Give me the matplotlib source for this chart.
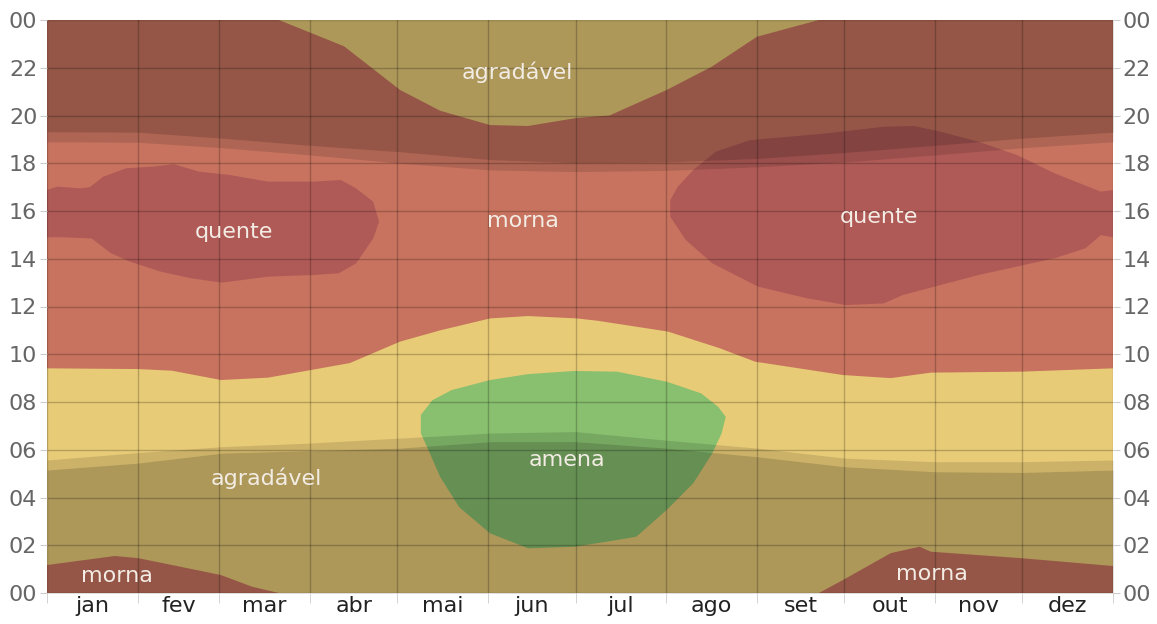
import matplotlib
matplotlib.use("Agg")
import matplotlib.pyplot as plt
import numpy as np

# eixo x: dia do ano (0..365), eixo y: hora do dia (0..24)
meses = ["jan", "fev", "mar", "abr", "mai", "jun", "jul", "ago", "set", "out", "nov", "dez"]
dias_mes = [31, 28, 31, 30, 31, 30, 31, 31, 30, 31, 30, 31]

# limite manha agradavel -> morna
manha_dias = [0, 31.2, 42.8, 59.6, 75.7, 90.4, 103.7, 120.9, 134.6, 151.7, 164.7, 181.5,
              188.7, 212.6, 230.4, 242.4, 272.5, 288.9, 302.6, 333.4, 365]
manha_horas = [9.41, 9.38, 9.31, 8.92, 9.02, 9.34, 9.63, 10.53, 11.0, 11.5, 11.6, 11.5,
               11.4, 10.95, 10.25, 9.69, 9.13, 9.0, 9.23, 9.27, 9.41]

# limite noite morna -> agradavel (cupula no topo)
cupula_dias = [79.4, 101.7, 120.9, 134.6, 151.7, 164.7, 181.5, 192.6, 212.2, 227.7, 243.1, 264.3]
cupula_horas = [24, 22.9, 21.07, 20.2, 19.6, 19.56, 19.9, 20.0, 21.07, 22.05, 23.3, 24]

# morna depois da meia-noite
morna_esq_dias = [0, 23.2, 31.2, 42.9, 59.6, 70.3, 79.4]
morna_esq_horas = [1.17, 1.55, 1.46, 1.17, 0.75, 0.26, 0]
morna_dir_dias = [264.3, 272.5, 288.9, 298.8, 302.6, 333.4, 365]
morna_dir_horas = [0, 0.54, 1.67, 1.94, 1.73, 1.46, 1.13]

# quente (jan-abr)
quente1_dias = [0, 3.6, 11.4, 14.7, 19.3, 27.1, 36.3, 43.5, 52, 62.5, 75.7, 91.4, 100.6, 105.8,
                111.7, 113.7, 111.7, 105.8, 99.9, 91.4, 75.7, 59.9, 49.4, 38.9, 28.4, 21.9,
                15.3, 4.9, 0]
quente1_horas = [16.88, 17.02, 16.95, 17.0, 17.44, 17.79, 17.86, 17.96, 17.65, 17.51, 17.23,
                 17.23, 17.3, 16.95, 16.39, 15.55, 14.85, 13.8, 13.39, 13.32, 13.25, 13.0,
                 13.18, 13.46, 13.88, 14.23, 14.85, 14.9, 14.9]

# quente (ago-dez)
quente2_dias = [213.4, 216, 221.3, 229.1, 240.8, 253.9, 266.9, 286.5, 296.9, 306, 319, 332, 345,
                360.8, 365, 365, 360.8, 355.6, 345, 332, 319, 306, 293, 286.5, 273.5, 260.4,
                243.5, 227.8, 218.7, 213.4]
quente2_horas = [16.46, 17.02, 17.72, 18.49, 18.97, 19.11, 19.25, 19.53, 19.56, 19.32, 18.9,
                 18.35, 17.58, 16.81, 16.88, 14.9, 14.99, 14.44, 14.02, 13.67, 13.32, 12.9,
                 12.48, 12.13, 12.06, 12.34, 12.83, 13.81, 14.79, 15.76]

# amena (mai-ago)
amena_dias = [128, 132, 138.6, 151.7, 164.8, 180.5, 195.2, 212.2, 224, 229.8, 232.4, 231, 227.8,
              221.3, 212.2, 201.8, 195.2, 180.9, 164.8, 151.7, 141.1, 134.6, 130.6, 128]
amena_horas = [7.46, 8.08, 8.5, 8.92, 9.17, 9.3, 9.27, 8.85, 8.36, 7.8, 7.38, 6.69, 5.85, 4.6,
               3.48, 2.36, 2.22, 1.94, 1.87, 2.5, 3.6, 4.87, 5.99, 6.69]

# noite e crepusculo
sol_dias = [0, 31, 60, 90, 121, 152, 181, 212, 243, 273, 304, 334, 365]
noite_manha = [5.15, 5.44, 5.86, 5.96, 6.07, 6.34, 6.34, 6.07, 5.71, 5.29, 5.08, 5.05, 5.15]
crep_manha = [5.57, 5.88, 6.13, 6.28, 6.49, 6.7, 6.76, 6.4, 6.07, 5.65, 5.5, 5.5, 5.57]
crep_tarde = [18.9, 18.88, 18.65, 18.35, 18.0, 17.72, 17.65, 17.7, 17.85, 18.05, 18.35, 18.65, 18.9]
noite_tarde = [19.32, 19.3, 19.05, 18.75, 18.48, 18.15, 18.02, 18.05, 18.2, 18.45, 18.75, 19.05, 19.3]

rotulos = ["agradável", "morna", "quente", "quente", "amena", "agradável", "morna", "morna"]
rotulos_dia = [161, 163, 64, 285, 178, 75, 24, 303]
rotulos_hora = [21.8, 15.6, 15.1, 15.75, 5.57, 4.8, 0.7, 0.8]

c_agradavel = "#E8CB77"
c_morna = "#C8735F"
c_quente = "#B05A57"
c_amena = "#88C06F"

fig = plt.figure(figsize=(11.57, 6.24), dpi=100)
ax = fig.add_axes([47 / 1157, 1 - 593 / 624, 1066 / 1157, 573 / 624])
ax.set_facecolor(c_agradavel)

# morna (dia e inicio da noite)
xs = manha_dias + [365] + cupula_dias[::-1] + [0]
ys = manha_horas + [24] + cupula_horas[::-1] + [24]
ax.fill(xs, ys, color=c_morna, lw=0, zorder=1)
ax.fill(morna_esq_dias + [0], morna_esq_horas + [0], color=c_morna, lw=0, zorder=1)
ax.fill(morna_dir_dias + [365], morna_dir_horas + [0], color=c_morna, lw=0, zorder=1)

ax.fill(quente1_dias, quente1_horas, color=c_quente, lw=0, zorder=1.2)
ax.fill(quente2_dias, quente2_horas, color=c_quente, lw=0, zorder=1.2)
ax.fill(amena_dias, amena_horas, color=c_amena, lw=0, zorder=1.2)

# sombra da noite
ax.fill_between(sol_dias, 0, noite_manha, color="black", alpha=0.25, lw=0, zorder=1.5)
ax.fill_between(sol_dias, noite_manha, crep_manha, color="black", alpha=0.12, lw=0, zorder=1.5)
ax.fill_between(sol_dias, noite_tarde, 24, color="black", alpha=0.25, lw=0, zorder=1.5)
ax.fill_between(sol_dias, crep_tarde, noite_tarde, color="black", alpha=0.12, lw=0, zorder=1.5)

for t, d, h in zip(rotulos, rotulos_dia, rotulos_hora):
    ax.text(d, h, t, color="#F3ECE4", fontsize=16, ha="center", va="center", zorder=3)

limites = np.concatenate([[0], np.cumsum(dias_mes)])
centros = (limites[:-1] + limites[1:]) / 2

ax.set_xlim(0, 365)
ax.set_ylim(0, 24)
ax.set_xticks(centros)
ax.set_xticklabels(meses)
ax.set_xticks(limites, minor=True)
ax.tick_params(axis="x", which="major", length=0, labelsize=16, labelcolor="#222222", pad=2)
ax.tick_params(axis="x", which="minor", length=7, color="#cccccc")

horas = np.arange(0, 25, 2)
ax.set_yticks(horas)
ax.set_yticklabels(["%02d" % (h % 24) for h in horas])
ax.tick_params(axis="y", length=5, color="#cccccc", labelsize=16, labelcolor="#666666",
               left=True, right=True, labelleft=True, labelright=True, pad=2)

ax.set_axisbelow(False)
ax.grid(True, axis="y", color="black", alpha=0.22, lw=1)
ax.grid(True, axis="x", which="minor", color="black", alpha=0.22, lw=1)
for s in ax.spines.values():
    s.set_visible(False)

fig.savefig("out.png", dpi=100)
